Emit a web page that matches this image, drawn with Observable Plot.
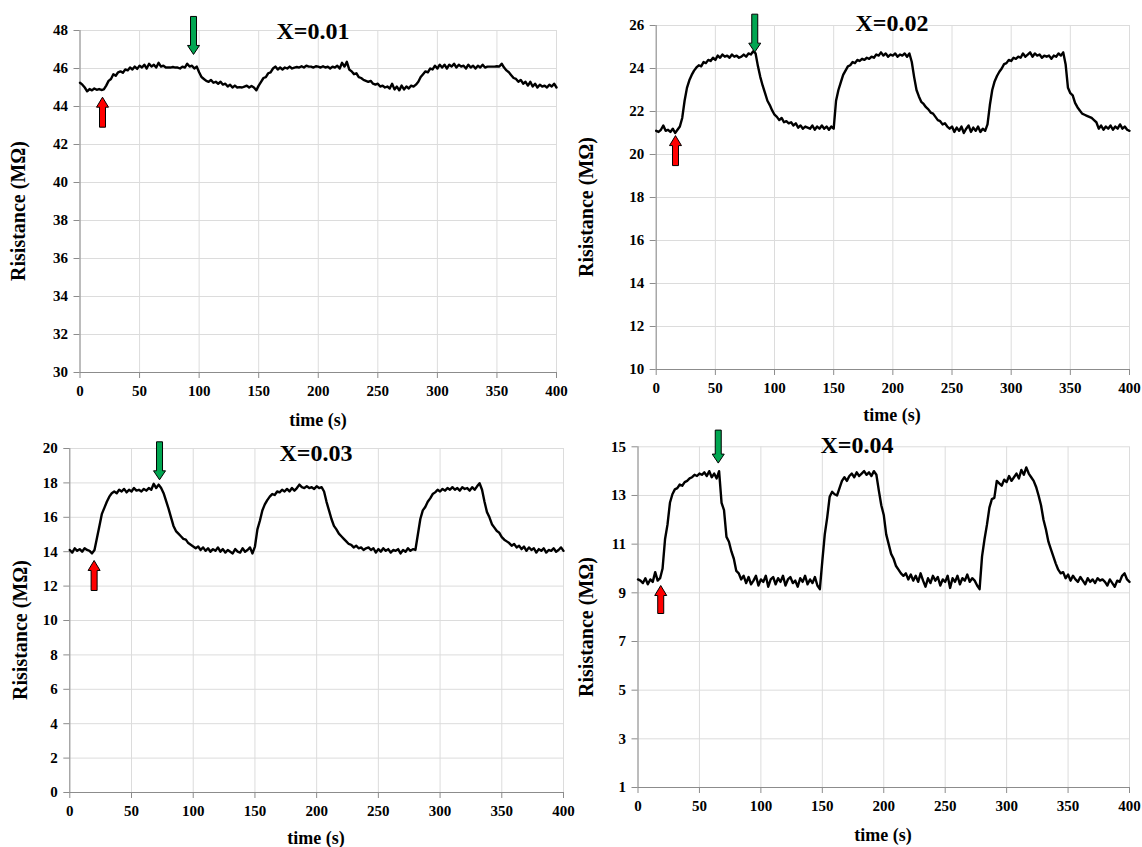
<!DOCTYPE html>
<html>
<head>
<meta charset="utf-8">
<script src="https://cdn.jsdelivr.net/npm/d3@7"></script>
<script src="https://cdn.jsdelivr.net/npm/@observablehq/plot@0.6"></script>
<style>
  html, body { margin: 0; padding: 0; background: #ffffff; }
  #wrap { position: relative; width: 1142px; height: 847px; overflow: hidden; background: #fff; }
  .panel { position: absolute; }
  .panel svg, .panel svg text { font-family: "Liberation Serif", "Times New Roman", serif !important; font-weight: bold; }
  .lbl { position: absolute; font-family: "Liberation Serif", "Times New Roman", serif; font-weight: bold; color: #000; white-space: nowrap; transform: translate(-50%, -50%); line-height: 1; }
  .ylab { transform: translate(-50%, -50%) rotate(-90deg); }
</style>
</head>
<body>
<div id="wrap"></div>
<script>
// ---------------- data ----------------
const time = [
  0,2,4,6,8,10,12,14,16,18,
  20,22,24,26,28,30,32,34,36,38,
  40,42,44,46,48,50,52,54,56,58,
  60,62,64,66,68,70,72,74,76,78,
  80,82,84,86,88,90,92,94,96,98,
  100,102,104,106,108,110,112,114,116,118,
  120,122,124,126,128,130,132,134,136,138,
  140,142,144,146,148,150,152,154,156,158,
  160,162,164,166,168,170,172,174,176,178,
  180,182,184,186,188,190,192,194,196,198,
  200,202,204,206,208,210,212,214,216,218,
  220,222,224,226,228,230,232,234,236,238,
  240,242,244,246,248,250,252,254,256,258,
  260,262,264,266,268,270,272,274,276,278,
  280,282,284,286,288,290,292,294,296,298,
  300,302,304,306,308,310,312,314,316,318,
  320,322,324,326,328,330,332,334,336,338,
  340,342,344,346,348,350,352,354,356,358,
  360,362,364,366,368,370,372,374,376,378,
  380,382,384,386,388,390,392,394,396,398,
  400
];

// X=0.01
const resistance001 = [
  45.25,45.15,45.0,44.8,44.92,44.85,44.95,44.88,44.92,44.87,
  44.9,45.1,45.35,45.45,45.7,45.62,45.8,45.85,45.78,45.95,
  45.9,46.05,45.95,46.1,45.98,46.15,46.05,46.2,46.0,46.25,
  46.1,46.2,46.05,46.3,46.1,46.15,46.05,46.05,46.05,46.08,
  46.05,46.05,46.0,46.1,46.05,46.25,46.1,46.15,46.0,46.1,
  45.8,45.55,45.45,45.35,45.3,45.4,45.25,45.3,45.2,45.3,
  45.15,45.2,45.05,45.15,45.0,45.1,45.0,45.02,45.0,45.05,
  45.1,45.0,45.08,45.0,44.85,45.1,45.3,45.5,45.55,45.75,
  45.8,46.0,46.1,45.95,46.05,45.95,46.05,46.0,46.1,46.0,
  46.05,46.08,46.05,46.12,46.05,46.15,46.1,46.1,46.05,46.12,
  46.1,46.05,46.12,46.05,46.1,46.0,46.1,46.05,46.15,46.0,
  46.3,46.1,46.35,45.95,45.85,45.7,45.75,45.55,45.5,45.4,
  45.35,45.3,45.35,45.2,45.15,45.2,45.05,45.1,45.0,45.05,
  44.95,45.2,44.9,45.05,44.85,45.1,44.9,45.05,44.95,45.1,
  45.05,45.15,45.3,45.55,45.7,45.85,45.8,46.0,45.95,46.15,
  46.0,46.2,46.05,46.2,46.0,46.2,46.1,46.25,46.05,46.2,
  46.1,46.15,46.0,46.2,46.05,46.15,46.0,46.15,46.05,46.2,
  46.05,46.1,46.1,46.1,46.1,46.12,46.1,46.25,46.05,45.9,
  45.8,45.65,45.5,45.45,45.3,45.4,45.2,45.3,45.1,45.3,
  45.05,45.2,45.0,45.15,45.05,45.1,45.0,45.15,45.05,45.2,
  45.0
];

// X=0.02
const resistance002 = [
  21.1,21.05,21.15,21.35,21.1,21.15,21.05,21.2,21.0,21.15,
  21.3,21.7,22.5,23.1,23.45,23.7,23.9,24.05,24.15,24.1,
  24.3,24.25,24.4,24.35,24.5,24.4,24.6,24.5,24.65,24.55,
  24.6,24.5,24.65,24.55,24.6,24.5,24.55,24.65,24.55,24.7,
  24.65,24.8,24.7,24.1,23.6,23.2,22.85,22.5,22.3,22.05,
  21.85,21.75,21.6,21.7,21.5,21.55,21.45,21.5,21.35,21.45,
  21.25,21.35,21.2,21.3,21.25,21.2,21.35,21.15,21.3,21.2,
  21.35,21.2,21.3,21.15,21.3,21.2,22.5,23.0,23.35,23.7,
  23.9,24.1,24.15,24.3,24.25,24.4,24.35,24.45,24.4,24.5,
  24.45,24.55,24.5,24.65,24.6,24.75,24.6,24.7,24.55,24.65,
  24.6,24.7,24.55,24.65,24.6,24.7,24.55,24.7,24.3,23.6,
  23.0,22.7,22.45,22.35,22.2,22.1,21.95,21.9,21.75,21.6,
  21.55,21.4,21.45,21.3,21.2,21.3,21.05,21.25,21.1,21.3,
  21.0,21.2,21.35,21.05,21.25,21.1,21.3,21.05,21.2,21.1,
  21.4,22.3,23.0,23.4,23.65,23.85,24.0,24.2,24.25,24.4,
  24.35,24.5,24.45,24.55,24.5,24.7,24.55,24.65,24.75,24.55,
  24.7,24.6,24.65,24.5,24.6,24.55,24.6,24.45,24.6,24.55,
  24.7,24.6,24.75,24.2,23.1,22.85,22.75,22.4,22.2,22.05,
  21.9,21.85,21.8,21.75,21.7,21.6,21.5,21.2,21.35,21.15,
  21.3,21.2,21.35,21.15,21.3,21.2,21.4,21.2,21.3,21.15,
  21.1
];

// X=0.03
const resistance003 = [
  14.1,13.95,14.2,14.05,14.15,14.0,14.2,14.1,14.05,13.9,
  14.1,14.8,15.5,16.2,16.55,16.9,17.2,17.4,17.5,17.4,
  17.6,17.5,17.65,17.45,17.6,17.5,17.7,17.55,17.6,17.5,
  17.65,17.55,17.7,17.6,17.95,17.7,17.9,17.7,17.4,16.95,
  16.5,16.0,15.5,15.2,15.05,14.9,14.75,14.7,14.5,14.4,
  14.3,14.2,14.3,14.1,14.25,14.05,14.2,14.0,14.15,14.05,
  14.25,14.0,14.15,13.95,14.1,14.0,13.9,14.15,14.0,13.95,
  14.2,14.0,14.1,14.25,13.9,14.3,15.3,15.8,16.4,16.75,
  17.0,17.2,17.35,17.3,17.5,17.45,17.6,17.5,17.65,17.5,
  17.7,17.55,17.7,17.9,17.75,17.7,17.8,17.7,17.75,17.65,
  17.8,17.7,17.75,17.5,16.9,16.4,15.9,15.5,15.3,15.05,
  14.9,14.75,14.6,14.45,14.4,14.25,14.35,14.2,14.25,14.1,
  14.2,14.25,14.1,14.2,13.95,14.15,14.0,14.2,14.05,14.15,
  13.95,14.1,14.05,14.15,13.9,14.1,14.0,14.2,14.05,14.15,
  14.1,15.0,15.9,16.4,16.6,16.9,17.1,17.35,17.45,17.6,
  17.5,17.65,17.55,17.7,17.6,17.75,17.6,17.7,17.55,17.75,
  17.65,17.7,17.55,17.75,17.6,17.8,17.98,17.6,16.9,16.3,
  16.0,15.6,15.4,15.2,15.1,14.85,14.7,14.6,14.5,14.35,
  14.45,14.25,14.35,14.15,14.3,14.05,14.25,14.1,14.2,13.95,
  14.15,14.05,14.2,13.95,14.1,14.05,14.2,14.0,14.1,14.25,
  14.05
];

// X=0.04
const resistance004 = [
  9.55,9.5,9.4,9.6,9.35,9.55,9.45,9.85,9.5,9.6,
  10.0,11.2,11.8,12.7,13.05,13.25,13.3,13.45,13.4,13.55,
  13.6,13.7,13.75,13.85,13.8,13.9,13.85,13.95,13.8,14.0,
  13.75,13.9,13.7,14.0,12.7,12.4,11.3,11.1,10.7,10.4,
  9.9,9.8,9.55,9.7,9.4,9.65,9.35,9.5,9.7,9.3,
  9.55,9.45,9.7,9.25,9.55,9.65,9.35,9.6,9.45,9.7,
  9.3,9.55,9.65,9.4,9.5,9.25,9.6,9.45,9.7,9.35,
  9.55,9.4,9.65,9.3,9.15,10.3,11.4,12.1,12.95,13.15,
  13.05,13.0,13.3,13.6,13.75,13.6,13.8,13.9,13.75,13.95,
  13.8,13.9,14.0,13.85,13.95,13.8,14.0,13.85,13.2,12.6,
  12.2,11.4,11.0,10.6,10.4,10.1,9.95,9.8,9.7,9.8,
  9.55,9.75,9.5,9.7,9.45,9.8,9.5,9.25,9.6,9.4,
  9.7,9.5,9.65,9.3,9.55,9.45,9.7,9.2,9.6,9.45,
  9.7,9.35,9.6,9.5,9.75,9.45,9.6,9.5,9.3,9.15,
  10.5,11.2,11.8,12.5,12.85,12.9,13.6,13.5,13.4,13.65,
  13.55,13.8,13.6,13.75,13.9,13.7,14.05,13.85,14.15,13.9,
  13.75,13.6,13.35,13.0,12.6,12.0,11.6,11.1,10.8,10.5,
  10.2,9.95,9.8,9.85,9.6,9.75,9.5,9.7,9.55,9.45,
  9.65,9.5,9.35,9.6,9.45,9.55,9.4,9.6,9.5,9.55,
  9.45,9.3,9.55,9.4,9.25,9.5,9.45,9.7,9.8,9.55,
  9.45
];

const panelTitles = ["X=0.01", "X=0.02", "X=0.03", "X=0.04"];
const xTicks = [0, 50, 100, 150, 200, 250, 300, 350, 400];
const yTicks001 = [30, 32, 34, 36, 38, 40, 42, 44, 46, 48];
const yTicks002 = [10, 12, 14, 16, 18, 20, 22, 24, 26];
const yTicks003 = [0, 2, 4, 6, 8, 10, 12, 14, 16, 18, 20];
const yTicks004 = [1, 3, 5, 7, 9, 11, 13, 15];
const xLabel = "time (s)";
const yLabel = "Risistance (M\u03A9)";

// gas on (red, pointing up) and gas off (green, pointing down) markers: time and tip value
const gasOnTime = [18.9, 16.3, 19.7, 18.5];
const gasOnValue = [44.49, 20.88, 13.49, 9.30];
const gasOffTime = [95.3, 83.3, 72.7, 65.3];
const gasOffValue = [46.74, 24.76, 18.18, 14.33];

// ---------------- drawing ----------------
const SERIF = "Liberation Serif";
const STYLE = "font-family: 'Liberation Serif', serif; font-size: 15px; font-weight: bold; color: #000; background: transparent; overflow: visible;";
const series = [resistance001, resistance002, resistance003, resistance004];
const yTickSets = [yTicks001, yTicks002, yTicks003, yTicks004];

// block arrow symbols; tip at the data point
function upArrow(len) {
  return { draw(ctx) {
    const hw = 6, sw = 3, hh = 10;
    ctx.moveTo(0, 0); ctx.lineTo(hw, hh); ctx.lineTo(sw, hh); ctx.lineTo(sw, len);
    ctx.lineTo(-sw, len); ctx.lineTo(-sw, hh); ctx.lineTo(-hw, hh); ctx.closePath();
  }};
}
function downArrow(len) {
  return { draw(ctx) {
    const hw = 6, sw = 3, hh = 9;
    ctx.moveTo(0, 0); ctx.lineTo(hw, -hh); ctx.lineTo(sw, -hh); ctx.lineTo(sw, -len);
    ctx.lineTo(-sw, -len); ctx.lineTo(-sw, -hh); ctx.lineTo(-hw, -hh); ctx.closePath();
  }};
}

// layout per panel
const layout = [
  {left: 0,   top: 0,   w: 571, h: 430, ml: 79.5, mr: 15, mt: 30,   mb: 58, redLen: 30, greenLen: 38,
   title: [313, 31], xl: [318, 420], yl: [17.5, 211]},
  {left: 571, top: 0,   w: 571, h: 430, ml: 84.7, mr: 13, mt: 25,   mb: 61, redLen: 30, greenLen: 38,
   title: [892, 23], xl: [892, 415], yl: [586, 207]},
  {left: 0,   top: 420, w: 571, h: 427, ml: 69.3, mr: 8,  mt: 28,   mb: 55, redLen: 30, greenLen: 38,
   title: [316, 453], xl: [316, 838], yl: [20, 630]},
  {left: 571, top: 420, w: 571, h: 427, ml: 66.5, mr: 13, mt: 26.3, mb: 60, redLen: 28, greenLen: 33,
   title: [857, 445], xl: [883, 835], yl: [586, 627]}
];

const wrap = document.getElementById("wrap");

layout.forEach((L, i) => {
  const data = time.map((t, k) => ({t, r: series[i][k]}));
  const yt = yTickSets[i];
  const ymin = yt[0], ymax = yt[yt.length - 1];
  const chart = Plot.plot({
    width: L.w, height: L.h,
    marginLeft: L.ml, marginRight: L.mr, marginTop: L.mt, marginBottom: L.mb,
    style: STYLE,
    x: {domain: [0, 400]},
    y: {domain: [ymin, ymax]},
    marks: [
      Plot.gridX(xTicks, {stroke: "#dcdcdc", strokeOpacity: 1}),
      Plot.gridY(yt, {stroke: "#dcdcdc", strokeOpacity: 1}),
      Plot.axisX(xTicks, {tickSize: 6, tickPadding: 7, stroke: "#8c8c8c", label: null,
        fontFamily: SERIF, fontSize: 15, fontWeight: "bold", fill: "#000"}),
      Plot.axisY(yt, {tickSize: 6, tickPadding: 6, stroke: "#8c8c8c", label: null,
        fontFamily: SERIF, fontSize: 15, fontWeight: "bold", fill: "#000"}),
      Plot.ruleX([0], {stroke: "#8c8c8c"}),
      Plot.ruleY([ymin], {stroke: "#8c8c8c"}),
      Plot.line(data, {x: "t", y: "r", stroke: "#000", strokeWidth: 2.4, strokeLinejoin: "round"}),
      Plot.dot([{t: gasOnTime[i], r: gasOnValue[i]}], {x: "t", y: "r", symbol: upArrow(L.redLen), r: 5, fill: "#ff0000", stroke: "#000", strokeWidth: 1}),
      Plot.dot([{t: gasOffTime[i], r: gasOffValue[i]}], {x: "t", y: "r", symbol: downArrow(L.greenLen), r: 5, fill: "#00a651", stroke: "#000", strokeWidth: 1})
    ]
  });
  const div = document.createElement("div");
  div.className = "panel";
  div.style.left = L.left + "px";
  div.style.top = L.top + "px";
  div.appendChild(chart);
  wrap.appendChild(div);

  const addLabel = (text, pos, size, cls) => {
    const d = document.createElement("div");
    d.className = "lbl" + (cls ? " " + cls : "");
    d.textContent = text;
    d.style.left = pos[0] + "px";
    d.style.top = pos[1] + "px";
    d.style.fontSize = size + "px";
    wrap.appendChild(d);
  };
  addLabel(panelTitles[i], L.title, 24);
  addLabel(xLabel, L.xl, 18);
  addLabel(yLabel, L.yl, 20, "ylab");
});
</script>
</body>
</html>
